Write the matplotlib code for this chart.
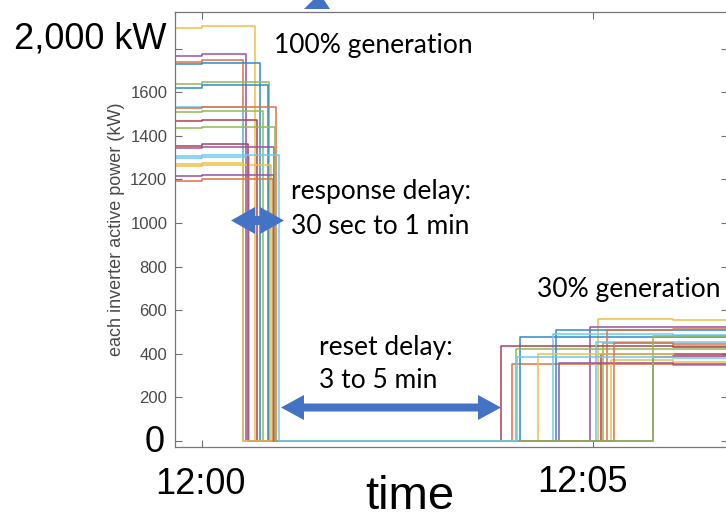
import matplotlib.pyplot as plt
from matplotlib.colors import to_rgb
from matplotlib.patches import Polygon

W, H = 726, 519

# matlab default colour order
blue, orange, gold, purple = "#0072BD", "#D95319", "#EDB120", "#7E2F8E"
green, lblue, dred = "#77AC30", "#4DBEEE", "#A2142F"

# one entry per inverter (kW, minutes after 12:00)
colors = [gold, purple, orange, blue, green, blue, lblue, orange, green, dred,
          lblue, gold, dred, purple, gold, orange, purple, green, lblue]
start_kw = [1894, 1766, 1740, 1728, 1638, 1621, 1531, 1526, 1511, 1467,
            1300, 1262, 1355, 1345, 1269, 1193, 1214, 1437, 1306]
start_kw_after = [1904, 1775, 1746, 1734, 1645, 1632, 1534, 1531, 1516, 1472,
                  1304, 1266, 1362, 1350, 1274, 1200, 1222, 1442, 1310]
drop_min = [0.68, 0.56, 0.53, 0.74, 0.86, 0.85, 0.52, 0.95, 0.78, 0.70,
            0.60, 0.88, 0.59, 0.92, 0.52, 0.91, 0.92, 0.94, 0.98]
rise_min = [5.07, 4.96, 3.97, 4.07, 4.02, 4.53, 4.49, 5.18, 5.13, 3.82,
            5.04, 5.23, 5.10, 4.56, 4.30, 5.27, 5.77, 5.77, 4.03]
reset_kw = [558, 521, 352, 478, 420, 509, 490, 509, 448, 436,
            452, 372, 398, 359, 398, 448, 387, 482, 384]
reset_kw_after = [556, 524, 350, 475, 420, 509, 488, 514, 436, 430,
                  452, 364, 398, 355, 392, 444, 390, 482, 383]
step_min = [0.0, 6.02]
t_start, t_end = -0.35, 6.8

yticks = [0, 200, 400, 600, 800, 1000, 1200, 1400, 1600, 1800]
ytick_labels = ["", "200", "400", "600", "800", "1000", "1200", "1400", "1600", ""]
xticks = [0, 5]


def fx(px):
    return px / W


def fy(py):
    return 1 - py / H


def lighten(c, k=0.18):
    r, g, b = to_rgb(c)
    return (r + (1 - r) * k, g + (1 - g) * k, b + (1 - b) * k)


def double_arrow(fig, x0, x1, yc, head_len, head_h, shaft_h, color="#4472C4"):
    pts = [(x0, yc), (x0 + head_len, yc - head_h / 2), (x0 + head_len, yc - shaft_h / 2),
           (x1 - head_len, yc - shaft_h / 2), (x1 - head_len, yc - head_h / 2), (x1, yc),
           (x1 - head_len, yc + head_h / 2), (x1 - head_len, yc + shaft_h / 2),
           (x0 + head_len, yc + shaft_h / 2), (x0 + head_len, yc + head_h / 2)]
    fig.add_artist(Polygon([(fx(x), fy(y)) for x, y in pts], closed=True,
                           transform=fig.transFigure, facecolor=color, edgecolor="none"))


fig = plt.figure(figsize=(W / 100, H / 100), dpi=100)
ax = fig.add_axes([fx(175), fy(447), (728 - 175) / W, (447 - 12) / H])

for i in range(len(colors)):
    xs = [t_start, step_min[0], drop_min[i], rise_min[i], step_min[1], t_end]
    ys = [start_kw[i], start_kw_after[i], 0, reset_kw[i], reset_kw_after[i], reset_kw_after[i]]
    ax.plot(xs, ys, drawstyle="steps-post", color=lighten(colors[i]), lw=1.1)

ax.set_xlim(-0.345, 6.727)
ax.set_ylim(-27.5, 1968)
ax.set_yticks(yticks)
ax.set_yticklabels(ytick_labels, fontsize=12, color="#4a4a4a", family="Liberation Sans")
ax.set_xticks(xticks)
ax.set_xticklabels([])
ax.tick_params(direction="in", length=5, width=0.8, color="#707070",
               top=True, right=True, pad=5.5)
for s in ax.spines.values():
    s.set_color("#777777")
    s.set_linewidth(0.9)

ax.set_ylabel("each inverter active power (kW)", fontsize=13, color="#4a4a4a",
              family="Liberation Sans", labelpad=4)

big = dict(family="Liberation Sans", color="black")
fig.text(fx(166), fy(39), "2,000 kW", ha="right", va="center", fontsize=26, **big)
fig.text(fx(165), fy(443), "0", ha="right", va="center", fontsize=26, **big)
fig.text(fx(200), fy(485), "12:00", ha="center", va="center", fontsize=26, **big)
fig.text(fx(583), fy(482), "12:05", ha="center", va="center", fontsize=26, **big)
fig.text(fx(410), fy(497), "time", ha="center", va="center", fontsize=34, **big)

note = dict(family="Lato", color="black", fontsize=19, ha="left", va="center")
fig.text(fx(274), fy(45), "100% generation", **note)
fig.text(fx(291), fy(192), "response delay:", **note)
fig.text(fx(291), fy(226), "30 sec to 1 min", **note)
fig.text(fx(319), fy(348), "reset delay:", **note)
fig.text(fx(319), fy(381), "3 to 5 min", **note)
fig.text(fx(537), fy(289), "30% generation", **note)

double_arrow(fig, 231, 284, 220.5, 24, 27, 9)
double_arrow(fig, 281, 501, 407.5, 23, 25, 8)
# tip of an arrow cut off by the top edge
fig.add_artist(Polygon([(fx(304), fy(9)), (fx(330), fy(9)), (fx(324), fy(0)), (fx(313), fy(0))],
                       closed=True, transform=fig.transFigure, facecolor="#4472C4",
                       edgecolor="none"))

fig.savefig("out.png", dpi=100)
